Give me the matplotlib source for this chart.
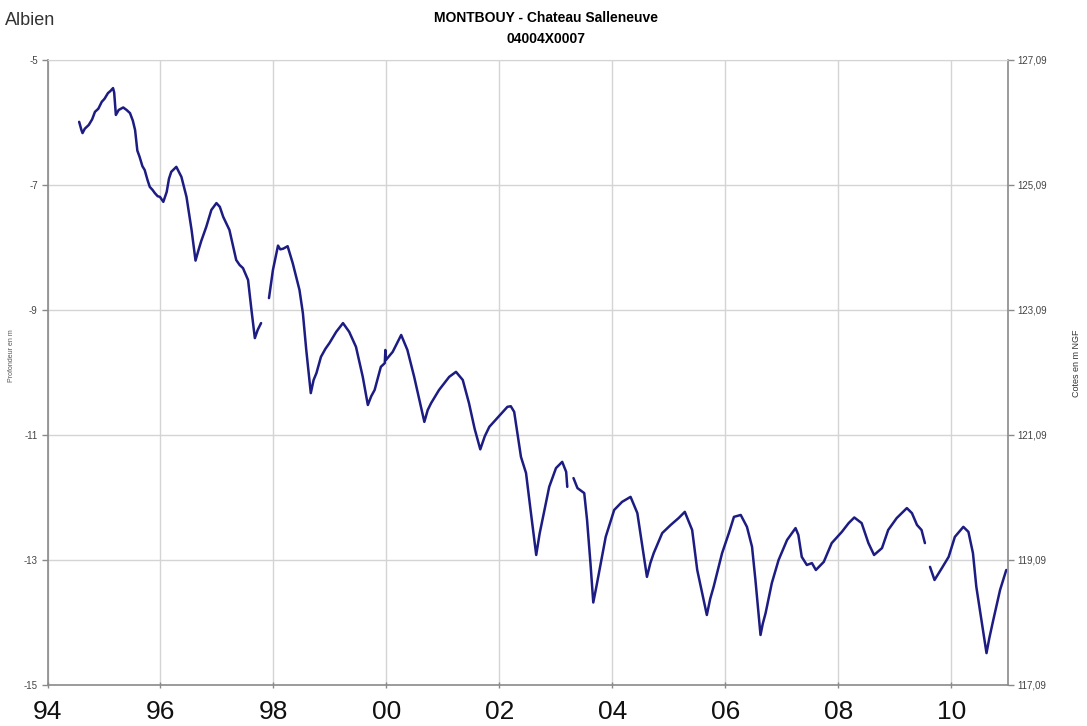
"""Albien piezometer record - MONTBOUY (04004X0007)."""

import matplotlib
matplotlib.use("Agg")
import matplotlib.pyplot as plt
from matplotlib.ticker import FuncFormatter

# decimal year / depth (m), one list per continuous stretch of record
YEARS_1 = [1994.56, 1994.60, 1994.62, 1994.66, 1994.73, 1994.79, 1994.84, 1994.90, 1994.96,
           1995.01, 1995.07, 1995.11, 1995.16, 1995.18, 1995.21, 1995.26, 1995.34, 1995.40,
           1995.46, 1995.51, 1995.55, 1995.59, 1995.63, 1995.68, 1995.72, 1995.77, 1995.81,
           1995.86, 1995.90, 1995.95, 1995.99, 1996.05, 1996.11, 1996.15, 1996.19, 1996.28,
           1996.37, 1996.46, 1996.55, 1996.62, 1996.67, 1996.72, 1996.81, 1996.90, 1996.99,
           1997.05, 1997.11, 1997.22, 1997.34, 1997.40, 1997.46, 1997.55, 1997.61, 1997.67,
           1997.72, 1997.78]
LEVELS_1 = [-5.99, -6.12, -6.17, -6.10, -6.04, -5.95, -5.83, -5.78, -5.67,
            -5.62, -5.53, -5.50, -5.45, -5.52, -5.88, -5.80, -5.76, -5.80,
            -5.85, -5.97, -6.12, -6.45, -6.55, -6.70, -6.76, -6.92, -7.03,
            -7.08, -7.13, -7.18, -7.19, -7.27, -7.11, -6.90, -6.79, -6.71,
            -6.87, -7.19, -7.72, -8.21, -8.05, -7.90, -7.67, -7.40, -7.29,
            -7.35, -7.51, -7.72, -8.20, -8.28, -8.33, -8.52, -9.00, -9.45,
            -9.32, -9.21]

YEARS_2 = [1997.92, 1997.99, 1998.08, 1998.12, 1998.17, 1998.25, 1998.34, 1998.46, 1998.52,
           1998.58, 1998.66, 1998.71, 1998.76, 1998.84, 1998.92, 1998.99, 1999.11, 1999.23,
           1999.34, 1999.46, 1999.58, 1999.67, 1999.73, 1999.79, 1999.90, 1999.97, 1999.98,
           1999.99, 2000.11, 2000.26, 2000.37, 2000.49, 2000.67, 2000.73, 2000.79, 2000.93,
           2001.11, 2001.23, 2001.35, 2001.46, 2001.56, 2001.66, 2001.74, 2001.82, 2001.99,
           2002.14, 2002.20, 2002.26, 2002.38, 2002.47, 2002.55, 2002.65, 2002.71, 2002.76,
           2002.88, 2003.00, 2003.11, 2003.18, 2003.20]
LEVELS_2 = [-8.81, -8.36, -7.97, -8.03, -8.02, -7.98, -8.25, -8.68, -9.05,
            -9.64, -10.33, -10.12, -10.01, -9.75, -9.62, -9.53, -9.35, -9.21,
            -9.35, -9.59, -10.07, -10.52, -10.38, -10.28, -9.91, -9.85, -9.64,
            -9.80, -9.67, -9.40, -9.64, -10.07, -10.79, -10.60, -10.49, -10.28,
            -10.07, -9.99, -10.12, -10.49, -10.90, -11.23, -11.02, -10.87, -10.70,
            -10.55, -10.54, -10.63, -11.35, -11.61, -12.20, -12.92, -12.58, -12.36,
            -11.83, -11.53, -11.43, -11.59, -11.83]

YEARS_3 = [2003.31, 2003.38, 2003.50, 2003.55, 2003.61, 2003.66, 2003.71, 2003.76, 2003.88,
           2004.03, 2004.17, 2004.32, 2004.44, 2004.53, 2004.61, 2004.67, 2004.73, 2004.88,
           2005.03, 2005.17, 2005.28, 2005.41, 2005.50, 2005.67, 2005.73, 2005.79, 2005.94,
           2006.06, 2006.15, 2006.27, 2006.38, 2006.47, 2006.53, 2006.62, 2006.66, 2006.71,
           2006.82, 2006.94, 2007.09, 2007.24, 2007.29, 2007.35, 2007.44, 2007.53, 2007.60,
           2007.74, 2007.88, 2008.06, 2008.18, 2008.28, 2008.41, 2008.53, 2008.63, 2008.77,
           2008.88, 2009.03, 2009.21, 2009.30, 2009.39, 2009.47, 2009.53]
LEVELS_3 = [-11.69, -11.85, -11.93, -12.36, -13.05, -13.68, -13.45, -13.21, -12.63,
            -12.20, -12.07, -11.99, -12.25, -12.79, -13.27, -13.05, -12.89, -12.57,
            -12.44, -12.33, -12.23, -12.52, -13.16, -13.88, -13.62, -13.43, -12.89,
            -12.57, -12.31, -12.28, -12.47, -12.79, -13.32, -14.20, -14.02, -13.85,
            -13.37, -13.00, -12.68, -12.49, -12.60, -12.95, -13.08, -13.05, -13.16,
            -13.03, -12.73, -12.55, -12.41, -12.32, -12.41, -12.73, -12.92, -12.81,
            -12.52, -12.33, -12.17, -12.25, -12.44, -12.52, -12.73]

YEARS_4 = [2009.62, 2009.70, 2009.83, 2009.95, 2010.06, 2010.21, 2010.30, 2010.38, 2010.44,
           2010.53, 2010.62, 2010.67, 2010.74, 2010.86, 2010.97]
LEVELS_4 = [-13.11, -13.32, -13.13, -12.95, -12.63, -12.47, -12.55, -12.89, -13.43,
            -13.96, -14.49, -14.25, -13.96, -13.48, -13.16]

YEAR_TICKS = [1994, 1996, 1998, 2000, 2002, 2004, 2006, 2008, 2010]
YEAR_LABELS = ["94", "96", "98", "00", "02", "04", "06", "08", "10"]
DEPTH_TICKS = [-15, -13, -11, -9, -7, -5]
NGF_OFFSET = 132.09

LINE_COLOR = "#1c1c82"
GRID_COLOR = "#d4d4d4"
AXIS_COLOR = "#8a8a8a"

plt.rcParams["font.family"] = ["Liberation Sans", "DejaVu Sans"]

fig = plt.figure(figsize=(10.87, 7.26), dpi=100)
ax = fig.add_axes([0.0437, 0.0565, 0.8836, 0.8609])

for years, levels in ((YEARS_1, LEVELS_1), (YEARS_2, LEVELS_2),
                      (YEARS_3, LEVELS_3), (YEARS_4, LEVELS_4)):
    ax.plot(years, levels, color=LINE_COLOR, linewidth=1.8,
            solid_joinstyle="round", solid_capstyle="round")

ax.set_xlim(1994, 2011)
ax.set_ylim(-15, -5)
ax.set_xticks(YEAR_TICKS)
ax.set_xticklabels(YEAR_LABELS, fontsize=19, color="#111111")
ax.set_yticks(DEPTH_TICKS)
ax.set_yticklabels([str(v) for v in DEPTH_TICKS], fontsize=7, color="#444444")
ax.grid(True, color=GRID_COLOR, linewidth=1.0)
ax.tick_params(axis="x", length=4, width=1, color=AXIS_COLOR, pad=9, direction="inout")
ax.tick_params(axis="y", length=4, width=1, color=AXIS_COLOR, pad=3)

for side in ("left", "right", "bottom"):
    ax.spines[side].set_color(AXIS_COLOR)
    ax.spines[side].set_linewidth(1.2)
ax.spines["top"].set_color(GRID_COLOR)

ax2 = ax.twinx()
ax2.set_ylim(-15 + NGF_OFFSET, -5 + NGF_OFFSET)
ax2.set_yticks([v + NGF_OFFSET for v in DEPTH_TICKS])
ax2.yaxis.set_major_formatter(FuncFormatter(lambda v, _: f"{v:.2f}".replace(".", ",")))
ax2.tick_params(axis="y", labelsize=7, labelcolor="#444444", length=4, width=1,
                color=AXIS_COLOR, pad=3)
for side in ("left", "right", "bottom", "top"):
    ax2.spines[side].set_visible(False)

fig.text(0.005, 0.972, "Albien", fontsize=13, color="#333333", ha="left", va="center")
fig.text(0.502, 0.975, "MONTBOUY - Chateau Salleneuve", fontsize=10, fontweight="bold",
         ha="center", va="center")
fig.text(0.502, 0.946, "04004X0007", fontsize=10, fontweight="bold",
         ha="center", va="center")
fig.text(0.011, 0.51, "Profondeur en m", fontsize=5, color="#555555", rotation=90,
         ha="center", va="center")
fig.text(0.990, 0.50, "Cotes en m NGF", fontsize=6.5, color="#333333", rotation=90,
         ha="center", va="center")

fig.savefig("out.png", dpi=100)
